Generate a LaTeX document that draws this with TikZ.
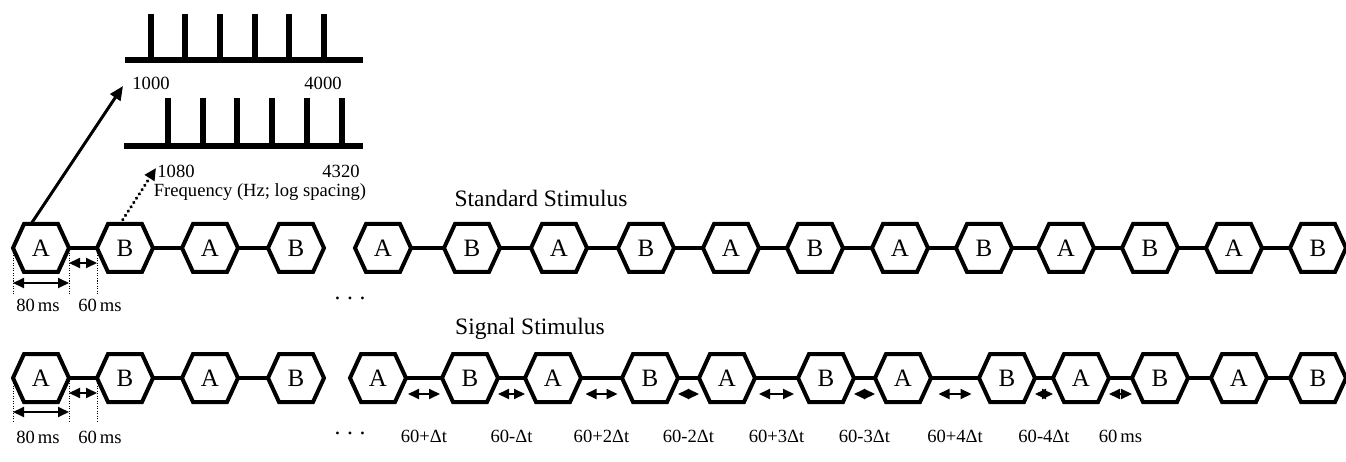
\documentclass[tikz,border=0pt]{standalone}
\usepackage{fontspec}
\setmainfont{Liberation Serif}
\usetikzlibrary{arrows.meta,calc}
\newcommand{\fsBig}{\fontsize{23.5}{28}\selectfont}
\newcommand{\fsHex}{\fontsize{25}{30}\selectfont}
\newcommand{\fsSmall}{\fontsize{18.6}{22}\selectfont}
\tikzset{
  hexbox/.style={rectangle, minimum width=56pt, minimum height=48pt, inner sep=0pt, outer sep=0pt, font=\fsHex},
  hexline/.style={line width=4pt, line join=miter},
  link/.style={line width=4pt},
  spec/.style={line width=6pt},
  dimline/.style={line width=1pt, dash pattern=on 1pt off 1.5pt},
  dimarrow/.style={line width=2pt, <->, >={Triangle[length=11pt,width=10pt]}},
  lbl/.style={font=\fsSmall, inner sep=0pt, anchor=base},
  title/.style={font=\fsBig, inner sep=0pt, anchor=base},
  dots/.style={font=\fsBig, inner sep=0pt, anchor=base},
}
% one hexagonal tone box: name, x, y, letter
\newcommand{\hexnode}[4]{%
  \node[hexbox] (#1) at (#2,#3) {#4};
  \draw[hexline] (#1.west) -- ([xshift=-17pt]#1.north) -- ([xshift=17pt]#1.north)
    -- (#1.east) -- ([xshift=17pt]#1.south) -- ([xshift=-17pt]#1.south) -- cycle;}

\begin{document}
\begin{tikzpicture}[x=1pt,y=-1pt]
\useasboundingbox (0,0) rectangle (1346,462);

% ---- spectra of the A and B tones
\draw[spec] (125,60) -- (363,60);
\foreach \x in {151,185,220,255,289,324} \draw[spec] (\x,14) -- (\x,60);
\draw[spec] (124,146) -- (363,146);
\foreach \x in {168,203,237,272,307,342} \draw[spec] (\x,98) -- (\x,146);
\node[lbl] (fA1) at (151,90) {1000};
\node[lbl] (fA2) at (323,90) {4000};
\node[lbl] (fB1) at (176,178) {1080};
\node[lbl] (fB2) at (341,178) {4320};
\node[lbl] (faxis) at (260,197) {Frequency (Hz; log spacing)};

% ---- standard stimulus
\foreach \n/\x/\t in {t1/41/A, t2/125/B, t3/210/A, t4/296/B} {\hexnode{\n}{\x}{248}{\t}}
\foreach \a/\b in {t1/t2, t2/t3, t3/t4} \draw[link] (\a.east) -- (\b.west);

\node[title] (stdtitle) at (541,207) {Standard Stimulus};
\foreach \n/\x/\t in {s1/383/A, s2/472/B, s3/559/A, s4/646/B, s5/731/A, s6/815/B,
                      s7/900/A, s8/984/B, s9/1066/A, s10/1150/B, s11/1234/A, s12/1318/B}
  {\hexnode{\n}{\x}{248}{\t}}
\foreach \i [evaluate=\i as \j using int(\i+1)] in {1,...,11}
  \draw[link] (s\i.east) -- (s\j.west);
\node[dots] (dtop) at (350,299) {.\hspace{6.6pt}.\hspace{6.6pt}.};

% durations of tone and gap
\draw[dimline] (t1.west) -- ++(0,47);
\draw[dimline] (t1.east) -- ++(0,47);
\draw[dimline] (t2.west) -- ++(0,47);
\draw[dimarrow] ([yshift=-35pt]t1.west) -- ([yshift=-35pt]t1.east);
\draw[dimarrow] ([yshift=-15pt]t1.east) -- ([yshift=-15pt]t2.west);
\node[lbl] (d80a) at (38,311) {80\,ms};
\node[lbl] (d60a) at (100,311) {60\,ms};

% arrows from the tones to their spectra
\coordinate (f1) at (123,86);
\coordinate (f2) at (156,168);
\draw[line width=3pt, -{Triangle[length=14pt,width=12pt]}] ([xshift=-10pt]t1.north) -- (f1);
\draw[line width=3.5pt, line cap=round, dash pattern=on 0.1pt off 5pt,
      -{Triangle[length=12pt,width=11pt]}]
  ([xshift=-5pt]t2.north) -- (f2);

% ---- signal stimulus
\foreach \n/\x/\t in {u1/41/A, u2/125/B, u3/210/A, u4/296/B} {\hexnode{\n}{\x}{378}{\t}}
\foreach \a/\b in {u1/u2, u2/u3, u3/u4} \draw[link] (\a.east) -- (\b.west);

\node[title] (sigtitle) at (530,334) {Signal Stimulus};
\foreach \n/\x/\t in {v1/378/A, v2/470/B, v3/553/A, v4/650/B, v5/727/A, v6/826/B,
                      v7/903/A, v8/1007/B, v9/1081/A, v10/1160/B, v11/1239/A, v12/1318/B}
  {\hexnode{\n}{\x}{378}{\t}}
\foreach \i [evaluate=\i as \j using int(\i+1)] in {1,...,11}
  \draw[link] (v\i.east) -- (v\j.west);
\node[dots] (dbot) at (350,434) {.\hspace{6.6pt}.\hspace{6.6pt}.};

\draw[dimline] (u1.west) -- ++(0,44);
\draw[dimline] (u1.east) -- ++(0,44);
\draw[dimline] (u2.west) -- ++(0,44);
\draw[dimarrow] ([yshift=-34pt]u1.west) -- ([yshift=-34pt]u1.east);
\draw[dimarrow] ([yshift=-15pt]u1.east) -- ([yshift=-15pt]u2.west);
\node[lbl] (d80b) at (38,443) {80\,ms};
\node[lbl] (d60b) at (100,443) {60\,ms};

% jittered gaps
\foreach \i/\sh/\txt [evaluate=\i as \j using int(\i+1)] in
  {1/2/60+Δt, 2/0/60-Δt, 3/4.5/60+2Δt, 4/0/60-2Δt, 5/4/60+3Δt,
   6/0/60-3Δt, 7/7.5/60+4Δt, 8/0/60-4Δt, 9/0/60\,ms} {
  \draw[dimarrow, shorten <=\sh pt, shorten >=\sh pt]
    ([yshift=-16pt]v\i.east) -- ([yshift=-16pt]v\j.west);
  \node[lbl] at ($(v\i.east)!.5!(v\j.west)+(0,64)$) {\txt};
}
\end{tikzpicture}
\end{document}
